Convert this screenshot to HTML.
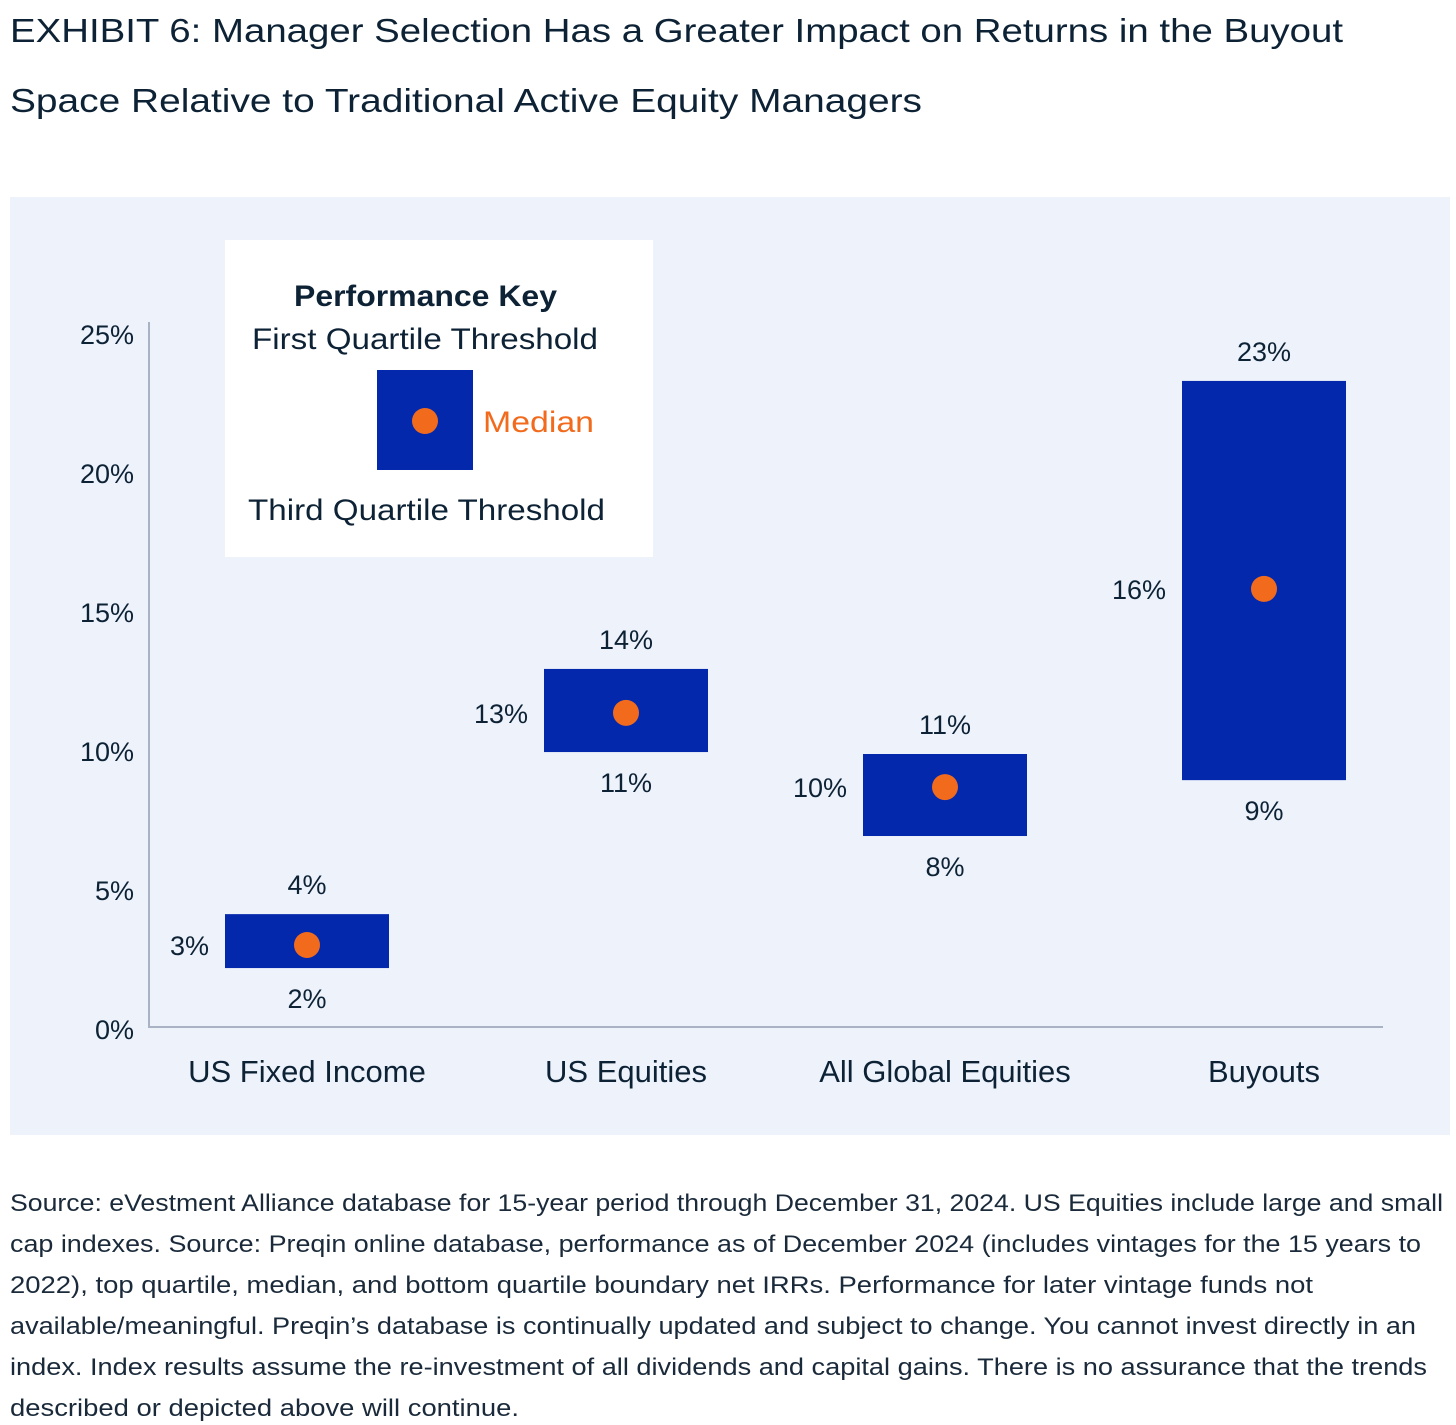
<!DOCTYPE html>
<html><head><meta charset="utf-8">
<style>
body{margin:0;width:1456px;height:1425px;background:#fff;font-family:"Liberation Sans",sans-serif;color:#0d2235;overflow:hidden;position:relative}
</style></head><body>
<svg id="chart" width="1456" height="1425" style="position:absolute;left:0;top:0;font-family:'Liberation Sans',sans-serif">
<text x="10" y="42" font-size="33" fill="#0d2235" textLength="1333" lengthAdjust="spacingAndGlyphs">EXHIBIT 6: Manager Selection Has a Greater Impact on Returns in the Buyout</text>
<text x="10" y="112" font-size="33" fill="#0d2235" textLength="912" lengthAdjust="spacingAndGlyphs">Space Relative to Traditional Active Equity Managers</text>
<rect x="10" y="197" width="1440" height="938" fill="#edf2fb"/>
<g id="g"></g>
<g>
<rect x="225" y="240" width="428" height="317" fill="#fff"/>
<text x="294" y="306" font-size="30" font-weight="bold" fill="#0d2235" textLength="263" lengthAdjust="spacingAndGlyphs">Performance Key</text>
<text x="252" y="349" font-size="30" fill="#0d2235" textLength="346" lengthAdjust="spacingAndGlyphs">First Quartile Threshold</text>
<rect x="377" y="370" width="96" height="100" fill="#0428ab"/>
<circle cx="425" cy="421" r="13" fill="#f26b1d"/>
<text x="483" y="432" font-size="30" fill="#f26b1d" textLength="111" lengthAdjust="spacingAndGlyphs">Median</text>
<text x="248" y="520" font-size="30" fill="#0d2235" textLength="357" lengthAdjust="spacingAndGlyphs">Third Quartile Threshold</text>
</g>
<g font-size="24" fill="#1a2a3a">
<text x="10" y="1211" textLength="1433" lengthAdjust="spacingAndGlyphs">Source: eVestment Alliance database for 15-year period through December 31, 2024. US Equities include large and small</text>
<text x="10" y="1252" textLength="1411" lengthAdjust="spacingAndGlyphs">cap indexes. Source: Preqin online database, performance as of December 2024 (includes vintages for the 15 years to</text>
<text x="10" y="1293" textLength="1303" lengthAdjust="spacingAndGlyphs">2022), top quartile, median, and bottom quartile boundary net IRRs. Performance for later vintage funds not</text>
<text x="10" y="1334" textLength="1406" lengthAdjust="spacingAndGlyphs">available/meaningful. Preqin’s database is continually updated and subject to change. You cannot invest directly in an</text>
<text x="10" y="1375" textLength="1417" lengthAdjust="spacingAndGlyphs">index. Index results assume the re-investment of all dividends and capital gains. There is no assurance that the trends</text>
<text x="10" y="1416" textLength="509" lengthAdjust="spacingAndGlyphs">described or depicted above will continue.</text>
</g>
</svg>
<script>
const categories=["US Fixed Income","US Equities","All Global Equities","Buyouts"];
const q1=[4.06,12.88,9.82,23.24];
const med=[2.95,11.3,8.63,15.76];
const q3=[2.12,9.89,6.87,8.88];
const q1Labels=["4%","14%","11%","23%"];
const medLabels=["3%","13%","10%","16%"];
const q3Labels=["2%","11%","8%","9%"];
const ticks=[0,5,10,15,20,25];
const NS="http://www.w3.org/2000/svg";
const g=document.getElementById('g');
const y=v=>1027-v*27.8;
const xc=i=>307+i*319;
function mk(tag,a,txt){const e=document.createElementNS(NS,tag);for(const k in a)e.setAttribute(k,a[k]);if(txt!=null)e.textContent=txt;g.appendChild(e);return e;}
let e=mk('line',{x1:149,y1:322,x2:149,y2:1027,stroke:'#a9b3c3','stroke-width':2});

e=mk('line',{x1:148,y1:1027,x2:1383,y2:1027,stroke:'#a9b3c3','stroke-width':2});

ticks.forEach(t=>{
 e=mk('text',{x:134,y:y(t)+12,'text-anchor':'end','font-size':27,fill:'#0d2235'},t+'%');
 
});
categories.forEach((c,i)=>{
 const cx=xc(i);
 e=mk('rect',{x:cx-82,y:y(q1[i]),width:164,height:y(q3[i])-y(q1[i]),fill:'#0428ab'});
 
 e=mk('circle',{cx:cx,cy:y(med[i]),r:13,fill:'#f26b1d'});
 
 e=mk('text',{x:cx,y:y(q1[i])-20,'text-anchor':'middle','font-size':27,fill:'#0d2235'},q1Labels[i]);
 
 e=mk('text',{x:cx,y:y(q3[i])+40,'text-anchor':'middle','font-size':27,fill:'#0d2235'},q3Labels[i]);
 
 e=mk('text',{x:cx-98,y:y(med[i])+10,'text-anchor':'end','font-size':27,fill:'#0d2235'},medLabels[i]);
 
 e=mk('text',{x:cx,y:1082,'text-anchor':'middle','font-size':31,fill:'#0d2235'},c);
 
});
</script>
</body></html>
